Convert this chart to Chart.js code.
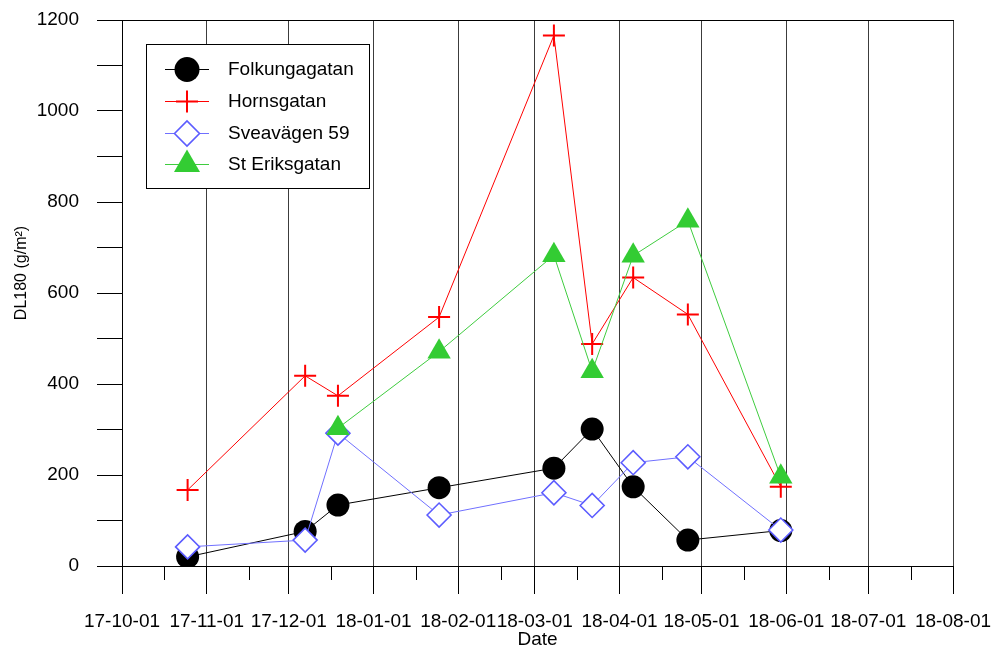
<!DOCTYPE html>
<html>
<head>
<meta charset="utf-8">
<script src="https://cdn.jsdelivr.net/npm/chart.js@4.4.1/dist/chart.umd.min.js"></script>
<style>
  html, body { margin: 0; padding: 0; background: #fff; }
  #wrap { width: 993px; height: 648px; }
</style>
</head>
<body>
<div id="wrap"><canvas id="c" width="993" height="648"></canvas></div>
<script>
// Sampling dates (DL180 dust load measurements)
const sampleDates = ['2017-10-25', '2017-12-07', '2017-12-19', '2018-01-25', '2018-03-08',
                     '2018-03-22', '2018-04-06', '2018-04-26', '2018-05-30'];

// DL180 (g/m²) per street
const folkungagatan = [20, 76, 134, 172, 215, 301, 174, 57, 78];
const hornsgatan    = [167, 418, 374, 547, 1166, 488, 634, 553, 174];
const sveavagen59   = [42, 57, 292, 112, 161, 133, 227, 240, 79];
const stEriksDates  = ['2017-12-19', '2018-01-25', '2018-03-08', '2018-03-22',
                       '2018-04-06', '2018-04-26', '2018-05-30'];
const stEriksgatan  = [303, 471, 683, 428, 682, 759, 196];

// Month ticks on the date axis
const monthTickDates = ['2017-10-01', '2017-11-01', '2017-12-01', '2018-01-01', '2018-02-01', '2018-03-01',
                        '2018-04-01', '2018-05-01', '2018-06-01', '2018-07-01', '2018-08-01'];
const monthTickLabels = ['17-10-01', '17-11-01', '17-12-01', '18-01-01', '18-02-01', '18-03-01',
                         '18-04-01', '18-05-01', '18-06-01', '18-07-01', '18-08-01'];
const yMin = 0, yMax = 1200, yStep = 100, yLabelStep = 200;

const ORIGIN = Date.UTC(2017, 9, 1);
function dayOf(s) {
  const [y, m, d] = s.split('-').map(Number);
  return (Date.UTC(y, m - 1, d) - ORIGIN) / 864e5;
}
const monthDays = monthTickDates.map(dayOf);
const points = (dates, vals) => vals.map((v, i) => ({ x: dayOf(dates[i]), y: v }));

const FONT = '"Liberation Sans", Arial, Helvetica, sans-serif';
Chart.defaults.font.family = FONT;
Chart.defaults.color = '#000';

const series = [
  { label: 'Folkungagatan', data: points(sampleDates, folkungagatan), order: 3,
    borderColor: '#000', borderWidth: 1, pointStyle: 'circle', pointRadius: 11.5,
    pointBackgroundColor: '#000', pointBorderColor: '#000', pointBorderWidth: 0 },
  { label: 'Hornsgatan', data: points(sampleDates, hornsgatan), order: 2,
    borderColor: '#ff0000', borderWidth: 1, pointStyle: 'cross', pointRadius: 11,
    pointBorderColor: '#ff0000', pointBorderWidth: 2 },
  { label: 'Sveavägen 59', data: points(sampleDates, sveavagen59), order: 1,
    borderColor: '#7070ff', borderWidth: 1, pointStyle: 'rectRot', pointRadius: 12,
    pointBackgroundColor: '#fff', pointBorderColor: '#5c5cff', pointBorderWidth: 1.6 },
  { label: 'St Eriksgatan', data: points(stEriksDates, stEriksgatan), order: 0,
    borderColor: '#3fcc3f', borderWidth: 1, pointStyle: 'triangle', pointRadius: 13.5,
    pointBackgroundColor: '#33cc33', pointBorderColor: '#33cc33', pointBorderWidth: 0 }
];

function drawMarker(ctx, s, x, y, r) {
  ctx.save();
  ctx.fillStyle = s.pointBackgroundColor || s.pointBorderColor;
  ctx.strokeStyle = s.pointBorderColor;
  ctx.lineWidth = s.pointBorderWidth;
  Chart.helpers.drawPoint(ctx, { pointStyle: s.pointStyle, radius: r, borderWidth: s.pointBorderWidth, rotation: 0 }, x, y);
  ctx.restore();
}

// Fixed axis box sizes; tick-label overhang is covered by the layout padding
function fixScale(size) {
  return scale => {
    if (scale.isHorizontal()) scale.height = size; else scale.width = size;
    scale.paddingLeft = scale.paddingRight = scale.paddingTop = scale.paddingBottom = 0;
  };
}

// Frame, minor date ticks, legend box and y-axis title
const decorations = {
  id: 'decorations',
  afterDraw(chart) {
    const { ctx, chartArea: a, scales: { x } } = chart;
    ctx.save();
    ctx.strokeStyle = '#000';
    ctx.lineWidth = 1;
    ctx.beginPath();
    ctx.moveTo(a.left, a.top + 0.5);
    ctx.lineTo(a.right + 1, a.top + 0.5);
    monthDays.slice(0, -1).forEach(d => {
      const px = Math.round(x.getPixelForValue(d + 15.5)) + 0.5;
      ctx.moveTo(px, a.bottom);
      ctx.lineTo(px, a.bottom + 14);
    });
    ctx.stroke();

    // legend
    const bx = 146.5, by = 44.5, bw = 223, bh = 144;
    ctx.fillStyle = '#fff';
    ctx.fillRect(bx, by, bw, bh);
    ctx.strokeRect(bx, by, bw, bh);
    ctx.font = '19px ' + FONT;
    ctx.textBaseline = 'middle';
    ctx.textAlign = 'left';
    const legendR = [12.5, 11, 12.5, 15];
    series.forEach((s, i) => {
      const ry = Math.round(69 + i * 31.8) + 0.5;
      ctx.strokeStyle = s.borderColor;
      ctx.lineWidth = 1;
      ctx.beginPath();
      ctx.moveTo(165, ry);
      ctx.lineTo(209, ry);
      ctx.stroke();
      drawMarker(ctx, s, 187, ry, legendR[i]);
      ctx.fillStyle = '#000';
      ctx.fillText(s.label, 228, ry);
    });

    // y-axis title
    ctx.translate(22, 273);
    ctx.rotate(-Math.PI / 2);
    ctx.font = '16px ' + FONT;
    ctx.textAlign = 'center';
    ctx.textBaseline = 'middle';
    ctx.fillStyle = '#000';
    ctx.fillText('DL180 (g/m²)', 0, 0);
    ctx.restore();
  }
};

new Chart(document.getElementById('c'), {
  type: 'line',
  data: { datasets: series.map(s => Object.assign({ fill: false, tension: 0 }, s)) },
  options: {
    responsive: false,
    animation: false,
    events: [],
    devicePixelRatio: 1,
    layout: { padding: { top: 20, right: 40, left: 0, bottom: 0 } },
    plugins: { legend: { display: false }, tooltip: { enabled: false } },
    scales: {
      x: {
        type: 'linear',
        min: monthDays[0],
        max: monthDays[monthDays.length - 1],
        afterBuildTicks: scale => { scale.ticks = monthDays.map(v => ({ value: v })); },
        afterFit: fixScale(82),
        ticks: {
          autoSkip: false, maxRotation: 0, minRotation: 0, padding: 16,
          font: { size: 19 },
          callback: (v) => monthTickLabels[monthDays.indexOf(v)]
        },
        grid: { color: '#3c3c3c', tickColor: '#000', tickLength: 28, lineWidth: 1 },
        border: { display: true, color: '#000', width: 1 },
        title: { display: true, text: 'Date', font: { size: 19, lineHeight: 0.85 }, padding: { top: 0, bottom: 0 } }
      },
      y: {
        min: yMin, max: yMax,
        afterFit: fixScale(122),
        ticks: {
          stepSize: yStep, autoSkip: false, padding: 18,
          font: { size: 19 },
          callback: v => (v % yLabelStep === 0 ? String(v) : '')
        },
        grid: { drawOnChartArea: false, tickColor: '#000', tickLength: 25 },
        border: { display: true, color: '#000', width: 1 }
      }
    }
  },
  plugins: [decorations]
});
</script>
</body>
</html>
